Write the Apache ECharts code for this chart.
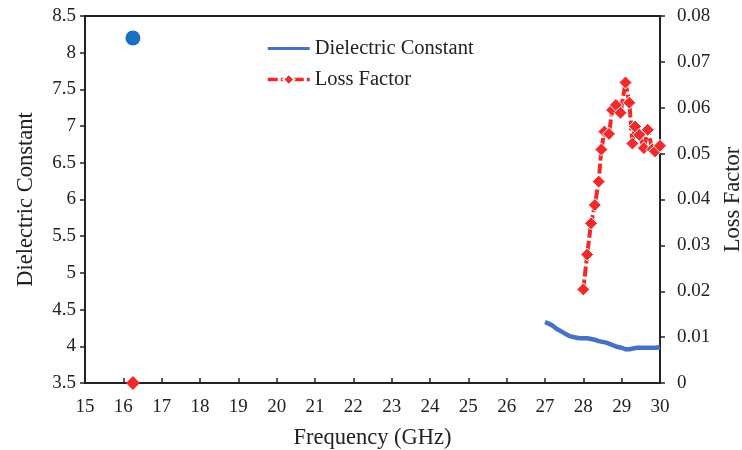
<!DOCTYPE html>
<html>
<head>
    <meta charset="utf-8">
    <title>Dielectric Constant / Loss Factor</title>
    <script src="https://cdn.jsdelivr.net/npm/echarts@6/dist/echarts.min.js"></script>
    <style>
        html, body { margin: 0; padding: 0; background: #fff; }
        #main { width: 742px; height: 450px; }
    </style>
</head>
<body>
<div id="main"></div>
<script>
    // dielectric constant (left axis)
    var dcFreq = [27.0, 27.1, 27.2, 27.3, 27.4, 27.5, 27.6, 27.7, 27.8, 27.9, 28.0, 28.1, 28.2, 28.3, 28.4, 28.5,
        28.6, 28.7, 28.8, 28.9, 29.0, 29.1, 29.2, 29.3, 29.4, 29.5, 29.6, 29.7, 29.8, 29.9, 30.0];
    var dcValue = [4.33, 4.31, 4.28, 4.24, 4.21, 4.18, 4.15, 4.13, 4.12, 4.11, 4.11, 4.11, 4.10, 4.09, 4.07, 4.06,
        4.05, 4.03, 4.01, 3.99, 3.98, 3.96, 3.96, 3.97, 3.98, 3.98, 3.98, 3.98, 3.98, 3.98, 3.99];

    // loss factor (right axis)
    var lfFreq = [28.0, 28.1, 28.2, 28.3, 28.4, 28.47, 28.55, 28.67, 28.75, 28.85, 28.97, 29.1, 29.2, 29.28,
        29.35, 29.46, 29.58, 29.68, 29.8, 29.87, 30.0];
    var lfValue = [0.0204, 0.0280, 0.0348, 0.0388, 0.0439, 0.0509, 0.0548, 0.0543, 0.0595, 0.0606, 0.0589,
        0.0655, 0.0611, 0.0522, 0.0559, 0.0541, 0.0512, 0.0552, 0.0509, 0.0505, 0.0517];

    // the two lone markers near 16 GHz
    var dotDc = [16.25, 8.2];
    var dotLf = [16.25, 0];

    var serif = '"Liberation Serif", "Times New Roman", serif';
    var ink = '#222';
    var blue = '#4472c4';
    var red = '#f02a2a';

    function pairs(xs, ys) {
        return xs.map(function (x, i) { return [x, ys[i]]; });
    }

    var myChart = echarts.init(document.getElementById('main'));

    var labelStyle = { fontFamily: serif, fontSize: 19, color: ink };
    var nameStyle = { fontFamily: serif, fontSize: 22.5, color: ink };

    var option = {
        animation: false,
        grid: {
            left: 85, right: 82, top: 16, bottom: 67,
            outerBoundsMode: 'none',
            show: true, borderColor: ink, borderWidth: 2, backgroundColor: 'transparent'
        },
        legend: {
            orient: 'vertical',
            left: 261, top: 33,
            padding: 5,
            itemWidth: 42, itemHeight: 14, itemGap: 10,
            data: [
                { name: 'Dielectric Constant', itemStyle: { opacity: 0 }, lineStyle: { width: 3 } },
                { name: 'Loss Factor', lineStyle: { width: 3.5 } }
            ],
            textStyle: { fontFamily: serif, fontSize: 20.5, color: ink }
        },
        xAxis: {
            type: 'value', min: 15, max: 30, interval: 1,
            name: 'Frequency (GHz)', nameLocation: 'middle', nameGap: 44,
            nameTextStyle: nameStyle,
            axisLine: { lineStyle: { color: ink, width: 2 } },
            axisTick: { inside: true, length: 5, lineStyle: { color: ink, width: 1.5 } },
            axisLabel: Object.assign({ margin: 15 }, labelStyle),
            splitLine: { show: false }
        },
        yAxis: [{
            type: 'value', min: 3.5, max: 8.5, interval: 0.5, position: 'left',
            name: 'Dielectric Constant', nameLocation: 'middle', nameGap: 47, nameRotate: 90,
            nameTextStyle: nameStyle,
            axisLine: { show: true, lineStyle: { color: ink, width: 2 } },
            axisTick: { show: true, length: 5, lineStyle: { color: ink, width: 1.5 } },
            axisLabel: Object.assign({ margin: 9 }, labelStyle),
            splitLine: { show: false }
        }, {
            type: 'value', min: 0, max: 0.08, interval: 0.01, position: 'right',
            name: 'Loss Factor', nameLocation: 'middle', nameGap: 62, nameRotate: 90,
            nameTextStyle: nameStyle,
            axisLine: { show: true, lineStyle: { color: ink, width: 2 } },
            axisTick: { show: true, length: 5, lineStyle: { color: ink, width: 1.5 } },
            axisLabel: Object.assign({ margin: 17 }, labelStyle),
            splitLine: { show: false }
        }],
        series: [{
            name: 'Dielectric Constant',
            type: 'line',
            yAxisIndex: 0,
            data: pairs(dcFreq, dcValue),
            symbol: 'none',
            lineStyle: { color: blue, width: 4.5 },
            itemStyle: { color: blue }
        }, {
            name: 'Loss Factor',
            type: 'line',
            yAxisIndex: 1,
            data: pairs(lfFreq, lfValue),
            symbol: 'diamond',
            symbolSize: 13,
            lineStyle: { color: red, width: 4, type: [10, 3] },
            itemStyle: { color: red, borderColor: '#fff', borderWidth: 1 }
        }, {
            name: 'dot-dc',
            type: 'scatter',
            yAxisIndex: 0,
            data: [dotDc],
            symbol: 'circle',
            symbolSize: 15,
            itemStyle: { color: '#1a6fc0', opacity: 1 }
        }, {
            name: 'dot-lf',
            type: 'scatter',
            yAxisIndex: 1,
            data: [dotLf],
            symbol: 'diamond',
            symbolSize: 14,
            itemStyle: { color: red, opacity: 1 }
        }]
    };

    myChart.setOption(option);
</script>
</body>
</html>
